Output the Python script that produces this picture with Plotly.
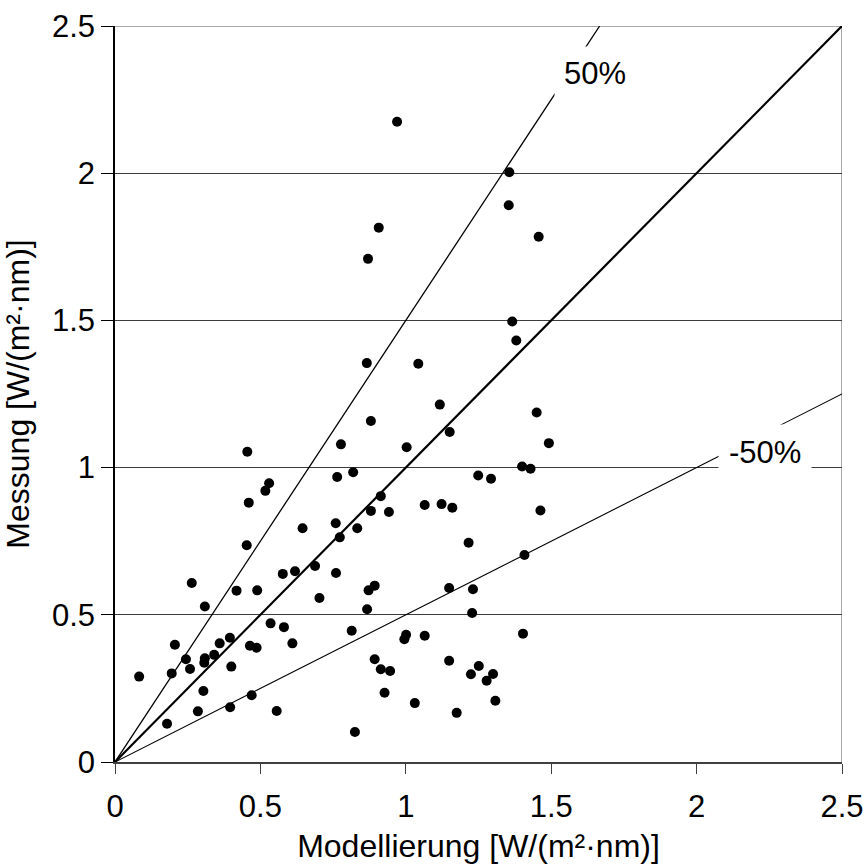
import plotly.graph_objects as go

# Modelled vs. measured spectral irradiance [W/(m²·nm)]
modellierung = [
    0.970, 1.356, 1.354, 0.907, 1.457, 0.870, 1.366, 1.380, 0.866, 1.043,
    1.117, 1.450, 0.880, 1.151, 1.492, 1.003, 1.400, 1.429, 0.819, 1.249,
    1.293, 0.914, 1.065, 1.123, 1.160, 1.463, 0.880, 0.942, 0.833, 1.216,
    1.408, 0.893, 0.872, 1.149, 1.231, 0.867, 1.228, 0.814, 1.001, 0.995,
    1.065, 1.403, 0.893, 0.914, 0.946, 1.149, 1.251, 1.224, 1.300, 1.278,
    0.927, 1.031, 1.175, 1.308, 0.825, 0.777, 0.764, 0.759, 0.773, 0.760,
    0.455, 0.530, 0.517, 0.460, 0.645, 0.453, 0.688, 0.577, 0.619, 0.264,
    0.418, 0.489, 0.703, 0.309, 0.535, 0.581, 0.206, 0.360, 0.395, 0.464,
    0.487, 0.610, 0.244, 0.309, 0.307, 0.341, 0.195, 0.258, 0.083, 0.400,
    0.304, 0.470, 0.285, 0.396, 0.556, 0.179,
]
messung = [
    2.175, 2.003, 1.891, 1.815, 1.784, 1.709, 1.496, 1.432, 1.355, 1.353,
    1.214, 1.187, 1.158, 1.121, 1.083, 1.069, 1.004, 0.996, 0.984, 0.973,
    0.962, 0.903, 0.873, 0.876, 0.864, 0.854, 0.853, 0.849, 0.794, 0.745,
    0.703, 0.599, 0.583, 0.591, 0.587, 0.519, 0.506, 0.446, 0.432, 0.417,
    0.429, 0.436, 0.349, 0.315, 0.309, 0.344, 0.326, 0.298, 0.299, 0.276,
    0.235, 0.200, 0.167, 0.208, 0.102, 1.079, 0.968, 0.811, 0.763, 0.642,
    1.054, 0.947, 0.921, 0.881, 0.794, 0.736, 0.666, 0.639, 0.648, 0.608,
    0.582, 0.583, 0.557, 0.528, 0.471, 0.458, 0.398, 0.403, 0.422, 0.395,
    0.388, 0.403, 0.349, 0.352, 0.337, 0.364, 0.301, 0.316, 0.290, 0.324,
    0.241, 0.227, 0.172, 0.186, 0.173, 0.130,
]

# Reference lines through the origin: 1:1, +50 % and -50 %
line_x_1to1 = [0, 2.5]
line_y_1to1 = [0, 2.5]
line_x_plus50 = [0, 2.5 / 1.5]
line_y_plus50 = [0, 2.5]
line_x_minus50 = [0, 2.5]
line_y_minus50 = [0, 1.25]

tick_vals = [0, 0.5, 1, 1.5, 2, 2.5]
tick_text = ["0", "0.5", "1", "1.5", "2", "2.5"]

FONT = "Liberation Sans, Arial, sans-serif"

fig = go.Figure()
fig.add_trace(go.Scatter(x=line_x_plus50, y=line_y_plus50, mode="lines",
                         line=dict(color="black", width=1.3), hoverinfo="skip"))
fig.add_trace(go.Scatter(x=line_x_minus50, y=line_y_minus50, mode="lines",
                         line=dict(color="black", width=1.1), hoverinfo="skip"))
fig.add_trace(go.Scatter(x=line_x_1to1, y=line_y_1to1, mode="lines",
                         line=dict(color="black", width=2.2), hoverinfo="skip"))
fig.add_trace(go.Scatter(x=modellierung, y=messung, mode="markers",
                         marker=dict(color="black", size=10)))

# Line labels on white boxes that interrupt the lines
fig.add_annotation(x=1.649, y=2.340, text="50%", showarrow=False,
                   font=dict(family=FONT, size=31, color="black"),
                   bgcolor="white", borderpad=9)
fig.add_annotation(x=2.235, y=1.050, text="-50%", showarrow=False,
                   font=dict(family=FONT, size=31, color="black"),
                   bgcolor="white", borderpad=10)

# Grey frame on the top and right of the plot area
fig.add_shape(type="line", xref="x", yref="y", x0=0, y0=2.5, x1=2.5, y1=2.5,
              line=dict(color="#8c8c8c", width=1.5), layer="below")
fig.add_shape(type="line", xref="x", yref="y", x0=2.5, y0=0, x1=2.5, y1=2.5,
              line=dict(color="#8c8c8c", width=1.5), layer="below")

fig.update_layout(
    width=867, height=864,
    margin=dict(l=115, r=25, t=26, b=102, autoexpand=False),
    paper_bgcolor="white", plot_bgcolor="white",
    showlegend=False,
    font=dict(family=FONT, size=31, color="black"),
    xaxis=dict(
        range=[0, 2.5], tickvals=tick_vals, ticktext=tick_text,
        automargin=False,
        showgrid=False, zeroline=False,
        showline=True, linecolor="#404040", linewidth=1.5,
        ticks="outside", ticklen=10, tickcolor="#404040", tickwidth=1,
        ticklabelstandoff=6,
        tickfont=dict(family=FONT, size=31),
        title=dict(text="Modellierung [W/(m²·nm)]", font=dict(family=FONT, size=32)),
    ),
    yaxis=dict(
        range=[0, 2.5], tickvals=tick_vals, ticktext=tick_text,
        automargin=False,
        showgrid=True, gridcolor="#3c3c3c", gridwidth=1,
        zeroline=False,
        showline=True, linecolor="black", linewidth=1.5,
        ticks="outside", ticklen=12, tickcolor="black", tickwidth=1,
        tickfont=dict(family=FONT, size=31),
        title=dict(text="Messung [W/(m²·nm)]", font=dict(family=FONT, size=32)),
    ),
)

fig.write_html("out.html")
